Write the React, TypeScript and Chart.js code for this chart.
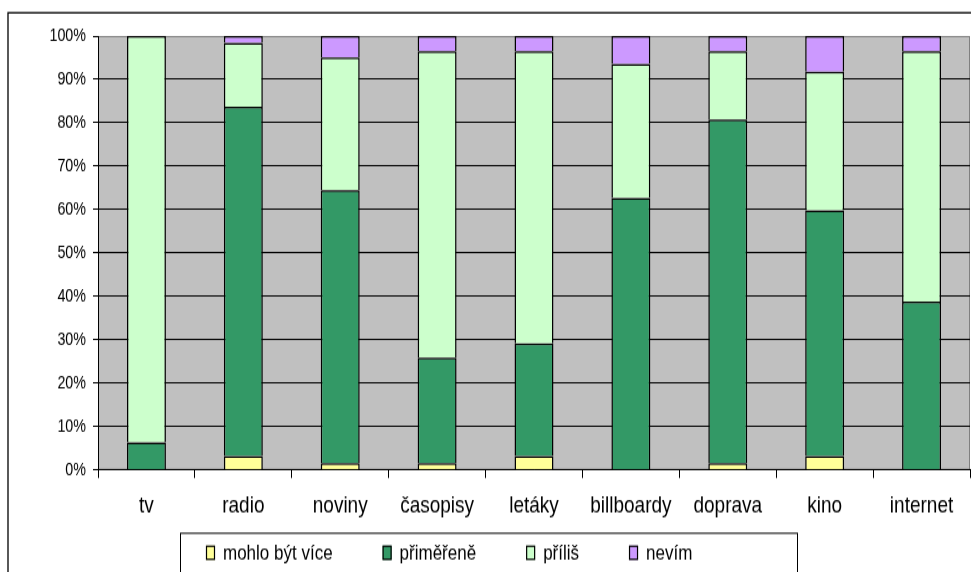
import { useEffect, useRef } from 'react';
import { Chart, registerables } from 'chart.js';

Chart.register(...registerables);

// Media channels and the share of answers (in %) for each opinion
const categories = ['tv', 'radio', 'noviny', 'časopisy', 'letáky', 'billboardy', 'doprava', 'kino', 'internet'];
const mohloBytVice = [0, 3.2, 1.6, 1.6, 3.2, 0, 1.6, 3.2, 0];
const primerene = [6.4, 80.5, 62.9, 24.3, 26.0, 62.7, 79.2, 56.6, 38.8];
const prilis = [93.6, 14.7, 30.6, 70.6, 67.3, 30.9, 15.7, 32.0, 57.7];
const nevim = [0, 1.6, 4.9, 3.5, 3.5, 6.4, 3.5, 8.2, 3.5];
const seriesLabels = ['mohlo být více', 'přiměřeně', 'příliš', 'nevím'];
const seriesColors = ['#FFFF99', '#339966', '#CCFFCC', '#CC99FF'];

const FONT = '"Liberation Sans", Arial, Helvetica, sans-serif';

// The drawing is rendered at a lower height and stretched vertically by CSS
const DISPLAY_W = 971;
const DISPLAY_H = 572;
const CANVAS_H = 461;

const frameAndBackground = {
  id: 'frameAndBackground',
  beforeDraw(chart: any) {
    const { ctx, chartArea } = chart;
    ctx.save();
    ctx.fillStyle = '#ffffff';
    ctx.fillRect(0, 0, chart.width, chart.height);
    // outer chart frame
    ctx.strokeStyle = '#000000';
    ctx.lineWidth = 1.3;
    ctx.strokeRect(8, 10.3, 2000, 2000);
    // plot area
    ctx.fillStyle = '#C0C0C0';
    ctx.fillRect(chartArea.left, chartArea.top, chartArea.right - chartArea.left, chartArea.bottom - chartArea.top);
    ctx.strokeStyle = '#808080';
    ctx.lineWidth = 1;
    ctx.strokeRect(chartArea.left + 0.5, chartArea.top + 0.5, chartArea.right - chartArea.left - 1, chartArea.bottom - chartArea.top - 1);
    ctx.restore();
  },
};

const boxedLegend = {
  id: 'boxedLegend',
  afterDraw(chart: any) {
    const { ctx } = chart;
    ctx.save();
    ctx.strokeStyle = '#000000';
    ctx.lineWidth = 1;
    ctx.strokeRect(180.5, 429.8, 617, 200);
    ctx.font = `17px ${FONT}`;
    ctx.textBaseline = 'middle';
    ctx.textAlign = 'left';
    const yMid = 445.5;
    let x = 206;
    chart.data.datasets.forEach((ds: any) => {
      ctx.fillStyle = ds.backgroundColor;
      ctx.fillRect(x, yMid - 5.75, 9, 11.5);
      ctx.strokeStyle = '#000000';
      ctx.lineWidth = 1.2;
      ctx.strokeRect(x + 0.5, yMid - 5.25, 8, 10.5);
      ctx.fillStyle = '#000000';
      ctx.fillText(ds.label, x + 17, yMid + 1);
      x += 17 + ctx.measureText(ds.label).width + 50;
    });
    ctx.restore();
  },
};

export default function App() {
  const canvasRef = useRef<HTMLCanvasElement | null>(null);

  useEffect(() => {
    const canvas = canvasRef.current;
    if (!canvas) return;
    const values = [mohloBytVice, primerene, prilis, nevim];
    const chart = new Chart(canvas, {
      type: 'bar',
      data: {
        labels: categories,
        datasets: values.map((data, i) => ({
          label: seriesLabels[i],
          data,
          backgroundColor: seriesColors[i],
          borderColor: '#000000',
          borderWidth: 1.5,
          borderSkipped: 'start',
          barPercentage: 0.4021,
          categoryPercentage: 1,
        })),
      },
      options: {
        responsive: false,
        maintainAspectRatio: false,
        devicePixelRatio: 1,
        animation: false,
        layout: { padding: { left: 0, right: 1, top: 29, bottom: 0 } },
        plugins: {
          legend: { display: false },
          tooltip: { enabled: false },
          title: { display: false },
        },
        scales: {
          x: {
            stacked: true,
            offset: true,
            grid: {
              offset: true,
              drawOnChartArea: false,
              color: '#000000',
              tickColor: '#000000',
              tickLength: 6.5,
              lineWidth: 1,
            },
            border: { color: '#000000', width: 1 },
            ticks: {
              color: '#000000',
              font: { family: FONT, size: 19 },
              padding: 11,
              maxRotation: 0,
              autoSkip: false,
            },
            afterFit: (scale: any) => {
              scale.height = 82.2;
            },
          },
          y: {
            stacked: true,
            min: 0,
            max: 100,
            grid: {
              color: (ctx: any) => (ctx.tick && ctx.tick.value === 100 ? '#808080' : '#000000'),
              tickColor: '#000000',
              tickLength: 5,
              lineWidth: 1,
            },
            border: { color: '#000000', width: 1 },
            ticks: {
              stepSize: 10,
              color: '#000000',
              font: { family: FONT, size: 14.3 },
              padding: 7,
              callback: (v: any) => `${v}%`,
            },
            afterFit: (scale: any) => {
              scale.width = 98;
            },
          },
        },
      },
      plugins: [frameAndBackground, boxedLegend],
    });
    return () => chart.destroy();
  }, []);

  return (
    <canvas
      ref={canvasRef}
      width={DISPLAY_W}
      height={CANVAS_H}
      style={{
        position: 'absolute',
        left: 0,
        top: 0,
        width: `${DISPLAY_W}px`,
        height: `${DISPLAY_H}px`,
        display: 'block',
      }}
    />
  );
}
